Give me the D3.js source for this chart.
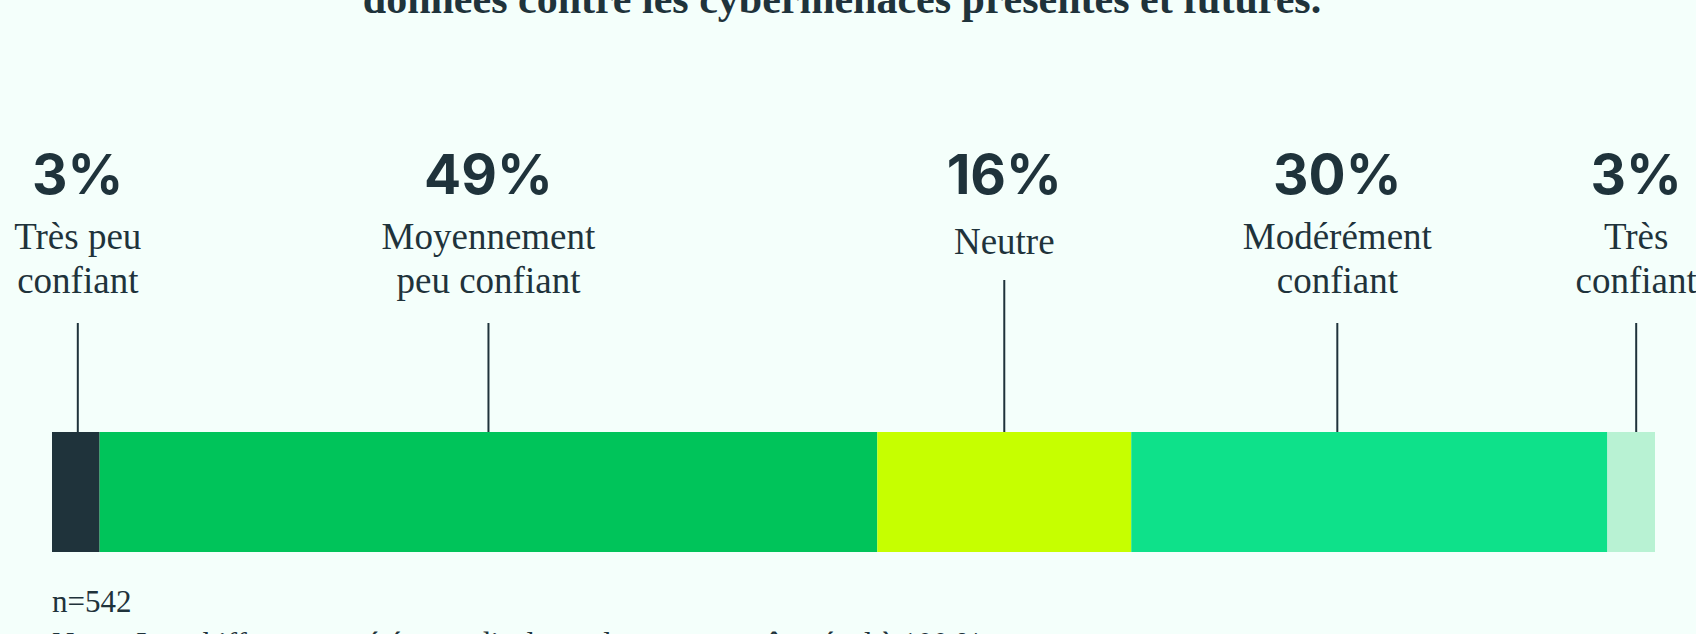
<!DOCTYPE html>
<html lang="fr">
<head>
<meta charset="utf-8">
<script src="https://cdn.jsdelivr.net/npm/d3@7"></script>
<style>
  html, body { margin: 0; padding: 0; background: #F4FFFB; overflow: hidden; }
  svg { display: block; }
</style>
</head>
<body>
<svg id="chart" width="1696" height="634"></svg>
<script>
// Répartition des réponses (en %)
const categories = ["Très peu confiant", "Moyennement peu confiant", "Neutre", "Modérément confiant", "Très confiant"];
const labelLines = [["Très peu", "confiant"], ["Moyennement", "peu confiant"], ["Neutre"], ["Modérément", "confiant"], ["Très", "confiant"]];
const values = [3, 49, 16, 30, 3];
const sampleNote = "n=542";
const footNote = "Note : Les chiffres ayant été arrondis, le total peut ne pas être égal à 100 %.";
const titleLine = "données contre les cybermenaces présentes et futures.";

const colors = ["#1F333B", "#00C45A", "#C6FF00", "#0EE18A", "#B8F2D3"];
const ink = "#1F333B";

// léger décalage horizontal de certaines étiquettes (px)
const labelNudge = { "Très peu confiant": 2, "Modérément confiant": -32, "Très confiant": 5 };

const svg = d3.select("#chart");

const total = d3.sum(values);
const x = d3.scaleLinear().domain([0, total]).range([52, 1655]);
const barTop = 432, barBottom = 552;

const starts = d3.cumsum([0, ...values]).slice(0, values.length);
const rows = categories.map((c, i) => ({
  cat: c, value: values[i], start: starts[i], lines: labelLines[i], color: colors[i]
}));

// titre (dernière ligne visible)
svg.append("text")
  .attr("x", 842).attr("y", 13)
  .attr("text-anchor", "middle")
  .attr("font-family", "'Liberation Serif', 'DejaVu Serif', serif")
  .attr("font-weight", 700)
  .attr("font-size", 42)
  .attr("fill", ink)
  .text(titleLine);

// barre empilée
svg.append("g").selectAll("rect")
  .data(rows)
  .join("rect")
  .attr("x", d => x(d.start))
  .attr("y", barTop)
  .attr("width", d => x(d.start + d.value) - x(d.start))
  .attr("height", barBottom - barTop)
  .attr("fill", d => d.color);

// étiquettes et traits de rappel
const lab = svg.append("g").selectAll("g")
  .data(rows)
  .join("g")
  .attr("transform", d => `translate(${x(d.start + d.value / 2) + (labelNudge[d.cat] || 0)},0)`);

lab.append("text")
  .attr("y", 194)
  .attr("text-anchor", "middle")
  .attr("font-family", "Inter, Lato, sans-serif")
  .attr("font-weight", 700)
  .attr("font-size", 55)
  .attr("fill", ink)
  .text(d => d.value + "%");

const firstBaseline = d => d.lines.length === 1 ? 254 : 249;

lab.each(function(d) {
  const g = d3.select(this);
  d.lines.forEach((ln, k) => {
    g.append("text")
      .attr("y", firstBaseline(d) + k * 44)
      .attr("text-anchor", "middle")
      .attr("font-family", "'Liberation Serif', 'DejaVu Serif', serif")
      .attr("font-size", 37)
      .attr("fill", ink)
      .text(ln);
  });
});

lab.append("line")
  .attr("x1", 0).attr("x2", 0)
  .attr("y1", d => d.lines.length === 1 ? 280 : 323)
  .attr("y2", barTop)
  .attr("stroke", ink)
  .attr("stroke-width", 2);

// notes de bas
svg.append("text")
  .attr("x", 52).attr("y", 612)
  .attr("font-family", "'Liberation Serif', 'DejaVu Serif', serif")
  .attr("font-size", 31)
  .attr("fill", ink)
  .text(sampleNote);

svg.append("text")
  .attr("x", 52).attr("y", 654)
  .attr("font-family", "'Liberation Serif', 'DejaVu Serif', serif")
  .attr("font-size", 31)
  .attr("fill", ink)
  .text(footNote);
</script>
</body>
</html>
